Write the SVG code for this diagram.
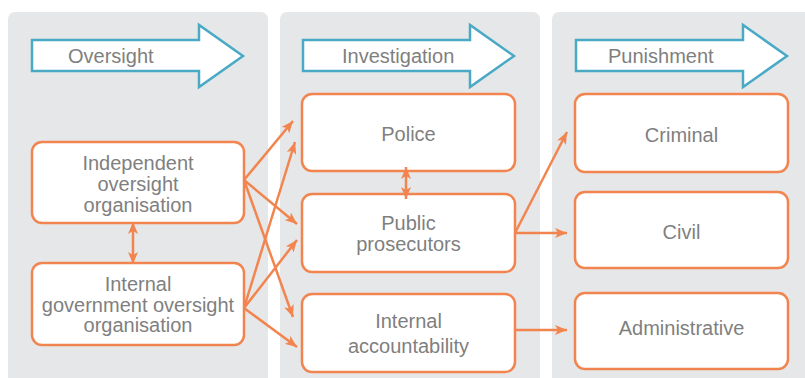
<svg xmlns="http://www.w3.org/2000/svg" width="805" height="378" viewBox="0 0 805 378">
<style>
.panel{fill:#E6E7E8}
.stage{fill:#fff;stroke:#4AAAC5;stroke-width:2.5;stroke-linejoin:miter}
.box{fill:#fff;stroke:#F2854F;stroke-width:2.5}
.t{font-family:"Liberation Sans",Arial,sans-serif;font-size:20px;fill:#7F7F7F;text-anchor:middle}
.h{font-family:"Liberation Sans",Arial,sans-serif;font-size:20px;fill:#7F7F7F}
.c{stroke:#F2854F;stroke-width:2.5;fill:none;marker-end:url(#ah)}
.d{stroke:#F2854F;stroke-width:2.5;fill:none;marker-end:url(#ah);marker-start:url(#ah)}
</style>
<defs>
<marker id="ah" markerUnits="userSpaceOnUse" viewBox="0 0 12 10" refX="12" refY="5" markerWidth="12" markerHeight="10" orient="auto-start-reverse">
<path d="M0,0 L12,5 L0,10 L3,5 Z" fill="#F2854F"/>
</marker>
</defs>
<rect width="805" height="378" fill="#fff"/>
<g id="panels">
<rect class="panel" x="8" y="12" width="260" height="380" rx="7"/>
<rect class="panel" x="280" y="12" width="260" height="380" rx="7"/>
<rect class="panel" x="552" y="12" width="270" height="380" rx="7"/>
</g>
<g id="stage-oversight">
<path class="stage" d="M32,40 H199 V25 L243,56 L199,87 V71 H32 Z"/>
<text class="h" x="68" y="63">Oversight</text>
</g>
<g id="stage-investigation">
<path class="stage" d="M303,40 H470 V25 L514,56 L470,87 V71 H303 Z"/>
<text class="h" x="342" y="63">Investigation</text>
</g>
<g id="stage-punishment">
<path class="stage" d="M576,40 H743 V25 L787,56 L743,87 V71 H576 Z"/>
<text class="h" x="608" y="63">Punishment</text>
</g>
<g id="node-independent">
<rect class="box" x="32" y="142" width="212" height="81" rx="10"/>
<text class="t" x="138" y="170">Independent</text>
<text class="t" x="138" y="191">oversight</text>
<text class="t" x="138" y="212">organisation</text>
</g>
<g id="node-internal-gov">
<rect class="box" x="32" y="263" width="212" height="82" rx="10"/>
<text class="t" x="138" y="291">Internal</text>
<text class="t" x="138" y="312">government oversight</text>
<text class="t" x="138" y="332">organisation</text>
</g>
<g id="node-police">
<rect class="box" x="302" y="94" width="213" height="77" rx="10"/>
<text class="t" x="408.5" y="141">Police</text>
</g>
<g id="node-prosecutors">
<rect class="box" x="302" y="194" width="213" height="78" rx="10"/>
<text class="t" x="408.5" y="230">Public</text>
<text class="t" x="408.5" y="251">prosecutors</text>
</g>
<g id="node-internal-acc">
<rect class="box" x="302" y="294" width="213" height="78" rx="10"/>
<text class="t" x="408.5" y="328">Internal</text>
<text class="t" x="408.5" y="353">accountability</text>
</g>
<g id="node-criminal">
<rect class="box" x="575" y="94" width="213" height="78" rx="10"/>
<text class="t" x="681.5" y="142">Criminal</text>
</g>
<g id="node-civil">
<rect class="box" x="575" y="192" width="213" height="76" rx="10"/>
<text class="t" x="681.5" y="239">Civil</text>
</g>
<g id="node-administrative">
<rect class="box" x="575" y="293" width="213" height="76" rx="10"/>
<text class="t" x="681.5" y="335">Administrative</text>
</g>
<g id="connectors">
<line class="c" x1="244" y1="180" x2="293" y2="121"/>
<line class="c" x1="244" y1="180" x2="297" y2="224"/>
<line class="c" x1="244" y1="180" x2="293" y2="317"/>
<line class="c" x1="244" y1="308" x2="295" y2="142"/>
<line class="c" x1="244" y1="308" x2="297" y2="240"/>
<line class="c" x1="244" y1="308" x2="297" y2="347"/>
<line class="c" x1="515" y1="233" x2="567" y2="132"/>
<line class="c" x1="515" y1="233" x2="567" y2="233"/>
<line class="c" x1="515" y1="330" x2="567" y2="330"/>
<line class="d" x1="133" y1="222" x2="133" y2="264"/>
<line class="d" x1="406" y1="167" x2="406" y2="199"/>
</g>
</svg>
